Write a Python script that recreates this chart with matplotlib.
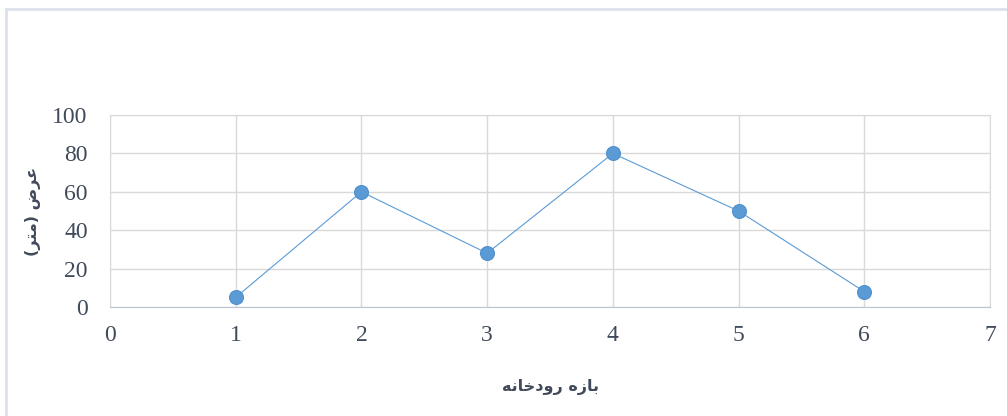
import matplotlib
matplotlib.use("Agg")
import matplotlib.pyplot as plt
from matplotlib.lines import Line2D

# river reach number and measured width (m)
reach = [1, 2, 3, 4, 5, 6]
width = [5, 60, 28, 80, 50, 8]

x_ticks = [0, 1, 2, 3, 4, 5, 6, 7]
y_ticks = [0, 20, 40, 60, 80, 100]

# Persian labels, written in shaped presentation forms (visual order)
x_label = "ﻪﻧﺎﺧﺩﻭﺭ ﻩﺯﺎﺑ"
y_label = "(ﺮﺘﻣ) ﺽﺮﻋ"

blue = "#5B9BD5"
text_col = "#404A5A"
grid_col = "#D9D9D9"

fig = plt.figure(figsize=(10.07, 4.16), dpi=100)
ax = fig.add_axes([110 / 1007, 1 - 307 / 416, 880 / 1007, 192 / 416])

ax.plot(reach, width, color=blue, lw=0.8, marker="o", ms=10,
        markerfacecolor=blue, markeredgecolor="#4F8FCC", markeredgewidth=0.8,
        zorder=3)

ax.set_xlim(0, 7)
ax.set_ylim(0, 100)
ax.set_xticks(x_ticks)
ax.set_yticks(y_ticks)
ax.grid(True, color=grid_col, lw=1)
ax.set_axisbelow(True)
ax.tick_params(length=0, labelsize=17, labelcolor=text_col)
ax.tick_params(axis="x", pad=13)
ax.tick_params(axis="y", pad=16)
for lab in ax.get_xticklabels() + ax.get_yticklabels():
    lab.set_fontfamily("Liberation Serif")

for side in ["top", "left", "right"]:
    ax.spines[side].set_color(grid_col)
ax.spines["bottom"].set_color("#BCC5D3")

fig.text(551 / 1007, 1 - 387 / 416, x_label, ha="center", va="center",
         fontsize=11.5, fontweight="bold", color=text_col, family="DejaVu Sans")
fig.text(33 / 1007, 1 - 211 / 416, y_label, ha="center", va="center",
         rotation=90, fontsize=11.5, fontweight="bold", color=text_col,
         family="DejaVu Sans")

# chart frame, cut off at the right and bottom edges
frame = "#DDE1EA"
fig.add_artist(Line2D([6 / 1007, 6 / 1007], [0, 1 - 9 / 416],
                      transform=fig.transFigure, color=frame, lw=2))
fig.add_artist(Line2D([6 / 1007, 1], [1 - 9 / 416, 1 - 9 / 416],
                      transform=fig.transFigure, color=frame, lw=2))

fig.savefig("out.png", dpi=100)
